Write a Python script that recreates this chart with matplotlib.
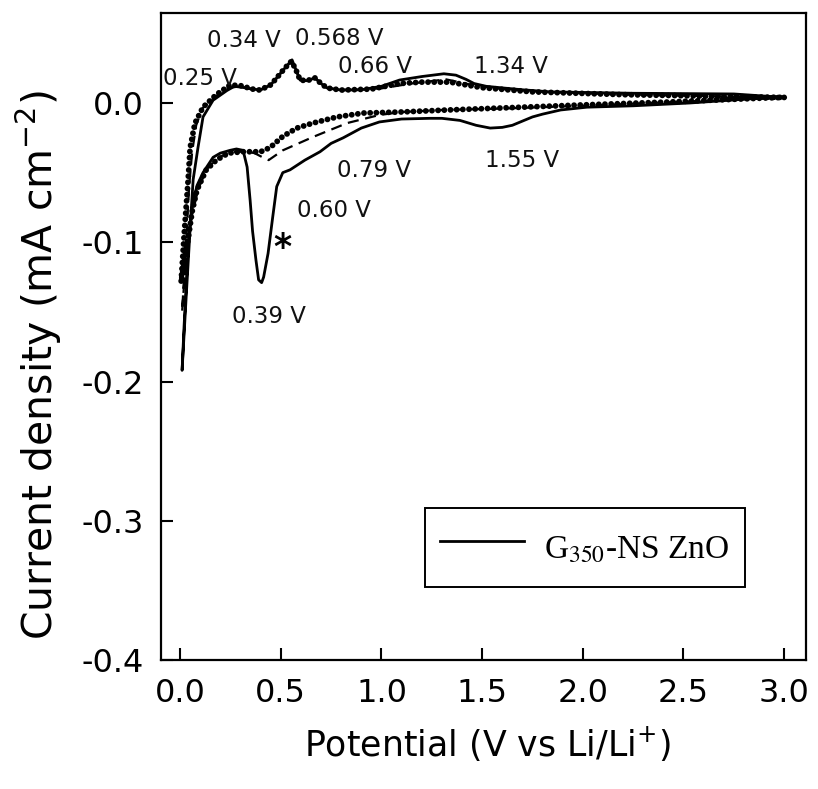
import matplotlib
matplotlib.use("Agg")
import matplotlib.pyplot as plt
from matplotlib.font_manager import FontProperties

plt.rcParams['font.family'] = ['DejaVu Sans']
plt.rcParams['axes.unicode_minus'] = False

# ---------------- data ----------------
# Cycle 1 (solid) - cathodic scan 3.0 V -> 0 V
c1_cat_v = [3.00, 2.83, 2.53, 2.25, 2.02, 1.89, 1.80, 1.75, 1.70, 1.65, 1.60, 1.54, 1.47, 1.39, 1.30, 1.24, 1.10,
            0.99, 0.90, 0.81, 0.75, 0.695, 0.62, 0.546, 0.51, 0.48, 0.46, 0.437, 0.415,
            0.405, 0.39, 0.377, 0.36, 0.348, 0.333, 0.313, 0.28, 0.248, 0.20, 0.164,
            0.114, 0.085, 0.065, 0.045, 0.035, 0.02, 0.01]
c1_cat_j = [0.004, 0.003, 0.000, -0.002, -0.003, -0.005, -0.008, -0.010, -0.013, -0.016, -0.0175, -0.018, -0.016, -0.0125, -0.011, -0.011, -0.0115,
            -0.0136, -0.018, -0.025, -0.029, -0.035, -0.041, -0.048, -0.050, -0.060, -0.082, -0.108, -0.125,
            -0.129, -0.127, -0.113, -0.092, -0.070, -0.046, -0.034, -0.033, -0.034, -0.036, -0.039,
            -0.050, -0.059, -0.070, -0.092, -0.118, -0.160, -0.192]
# Cycle 1 (solid) - anodic scan 0 V -> 3.0 V
c1_ano_v = [0.01, 0.03, 0.05, 0.065, 0.089, 0.114, 0.164, 0.233, 0.27, 0.32, 0.397, 0.45,
            0.48, 0.52, 0.556, 0.575, 0.596, 0.63, 0.67, 0.70, 0.73, 0.80, 0.90, 1.00,
            1.09, 1.20, 1.31, 1.37, 1.42, 1.46, 1.52, 1.59, 1.70, 1.84, 2.25, 2.75, 3.00]
c1_ano_j = [-0.192, -0.140, -0.090, -0.055, -0.032, -0.010, 0.002, 0.009, 0.012, 0.011, 0.0093, 0.013,
            0.018, 0.025, 0.031, 0.024, 0.0165, 0.016, 0.018, 0.014, 0.0108, 0.0093, 0.0095, 0.012,
            0.0165, 0.019, 0.021, 0.020, 0.017, 0.014, 0.012, 0.011, 0.0095, 0.008, 0.007, 0.0065, 0.004]

# Cycle 2 (dashed) - cathodic
c2_cat_v = [3.00, 2.50, 2.00, 1.60, 1.30, 1.10, 0.99, 0.83, 0.66, 0.51, 0.47, 0.44,
            0.41, 0.37, 0.33, 0.25, 0.18, 0.13, 0.09, 0.06, 0.04, 0.02, 0.01]
c2_cat_j = [0.004, 0.001, -0.002, -0.004, -0.005, -0.0065, -0.0086, -0.0144, -0.0244, -0.034, -0.038, -0.041,
            -0.039, -0.036, -0.035, -0.035, -0.040, -0.048, -0.062, -0.080, -0.100, -0.130, -0.150]
# Cycle 2 (dashed) - anodic
c2_ano_v = [0.01, 0.03, 0.045, 0.06, 0.08, 0.11, 0.17, 0.24, 0.30, 0.36, 0.40, 0.45,
            0.48, 0.52, 0.553, 0.575, 0.596, 0.63, 0.67, 0.70, 0.73, 0.80, 1.00, 1.15,
            1.32, 1.45, 1.60, 1.80, 2.20, 2.60, 3.00]
c2_ano_j = [-0.150, -0.100, -0.060, -0.035, -0.016, -0.004, 0.004, 0.011, 0.012, 0.0095, 0.0093, 0.013,
            0.018, 0.025, 0.030, 0.024, 0.0165, 0.016, 0.018, 0.014, 0.0108, 0.0093, 0.0105, 0.014,
            0.017, 0.013, 0.010, 0.008, 0.006, 0.005, 0.004]

# Cycle 3 (dotted) - cathodic
c3_cat_v = [3.00, 2.91, 2.42, 1.99, 1.59, 1.33, 1.09, 0.91, 0.78, 0.66, 0.58, 0.51,
            0.447, 0.40, 0.31, 0.24, 0.18, 0.13, 0.084, 0.06, 0.04, 0.02, 0.005]
c3_cat_j = [0.004, 0.0036, 0.0007, -0.0014, -0.0036, -0.005, -0.0065, -0.0072, -0.010, -0.0144, -0.018, -0.024,
            -0.032, -0.035, -0.035, -0.036, -0.041, -0.048, -0.0625, -0.078, -0.098, -0.115, -0.129]
# Cycle 3 (dotted) - anodic
c3_ano_v = [0.005, 0.02, 0.04, 0.05, 0.074, 0.114, 0.18, 0.248, 0.30, 0.36, 0.397, 0.45,
            0.48, 0.52, 0.553, 0.575, 0.596, 0.63, 0.67, 0.70, 0.73, 0.80, 0.95, 1.09,
            1.20, 1.34, 1.50, 1.75, 2.20, 2.60, 3.00]
c3_ano_j = [-0.129, -0.095, -0.055, -0.032, -0.0144, -0.003, 0.006, 0.0129, 0.0125, 0.010, 0.0093, 0.013,
            0.018, 0.025, 0.030, 0.024, 0.0165, 0.016, 0.018, 0.014, 0.0108, 0.0093, 0.010, 0.014,
            0.0150, 0.015, 0.011, 0.008, 0.006, 0.005, 0.004]

# Peak annotations: (text, x, baseline y)
peak_labels = ["0.25 V", "0.34 V", "0.568 V", "0.66 V", "1.34 V",
               "1.55 V", "0.79 V", "0.60 V", "0.39 V"]
peak_x = [0.26, 0.315, 0.79, 0.968, 1.645, 1.70, 0.963, 0.765, 0.44]
peak_y = [0.0129, 0.0402, 0.0417, 0.0215, 0.0215, -0.046, -0.0531, -0.0819, -0.158]

legend_label = r"G$_{350}$-NS ZnO"
x_ticks = [0.0, 0.5, 1.0, 1.5, 2.0, 2.5, 3.0]
y_ticks = [-0.4, -0.3, -0.2, -0.1, 0.0]

# ---------------- figure ----------------
fig = plt.figure(figsize=(8.18, 7.89), dpi=100)
ax = fig.add_axes([0.1965, 0.1635, 0.7885, 0.8196])

line1, = ax.plot(c1_cat_v + c1_ano_v, c1_cat_j + c1_ano_j, color='black', lw=2.0,
                 solid_joinstyle='round', label=legend_label, zorder=3)
ax.plot(c2_cat_v + c2_ano_v, c2_cat_j + c2_ano_j, color='black', lw=1.6,
        linestyle=(0, (5, 3)), zorder=2)
ax.plot(c3_cat_v + c3_ano_v, c3_cat_j + c3_ano_j, color='black', lw=4.2,
        linestyle=(0, (0.01, 1.05)), dash_capstyle='round', zorder=2)

for t, x, y in zip(peak_labels, peak_x, peak_y):
    ha = 'center'
    if t == "0.25 V":
        ha = 'left'
        x = -0.087
    ax.text(x, y, t, fontsize=16.5, ha=ha, va='baseline', color='#111111')
ax.text(0.51, -0.104, "*", fontsize=25, fontweight='bold', ha='center', va='center')

ax.set_xlim(-0.096, 3.107)
ax.set_ylim(-0.4, 0.0644)
ax.set_xticks(x_ticks)
ax.set_yticks(y_ticks)
ax.set_xticklabels([f"{v:.1f}" for v in x_ticks])
ax.set_yticklabels([f"{v:.1f}" for v in y_ticks])
ax.tick_params(direction='in', length=8.5, width=1.5, labelsize=23, pad=12)
ax.tick_params(axis='x', pad=13)
for s in ax.spines.values():
    s.set_linewidth(1.6)

ax.set_xlabel(r"Potential (V vs Li/Li$^{+}$)", fontsize=25)
ax.set_ylabel(r"Current density (mA cm$^{-2}$)", fontsize=29.5)
ax.xaxis.set_label_coords(0.506, -0.10)
ax.yaxis.set_label_coords(-0.150, 0.456)

leg = ax.legend(handles=[line1], loc='center', bbox_to_anchor=(0.410, 0.111, 0.496, 0.125),
                mode='expand', borderaxespad=0.0,
                prop=FontProperties(family='Liberation Serif', size=24, math_fontfamily='stix'),
                frameon=True, fancybox=False, edgecolor='black', framealpha=1,
                handlelength=2.5, handleheight=1.9, handletextpad=0.6, borderpad=0.45)
leg.get_frame().set_linewidth(1.4)

fig.savefig("out.png", dpi=100)
